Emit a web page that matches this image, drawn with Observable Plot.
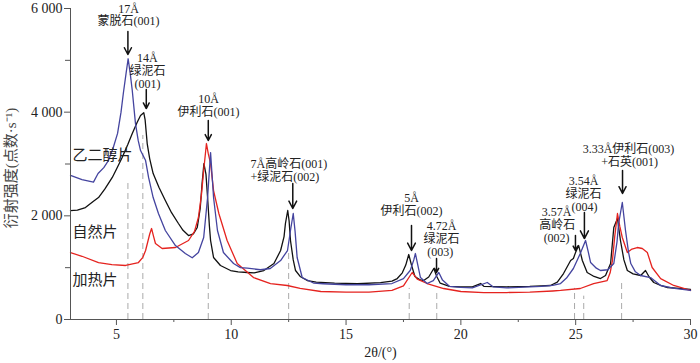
<!DOCTYPE html>
<html>
<head>
<meta charset="utf-8">
<script src="https://cdn.jsdelivr.net/npm/d3@7"></script>
<script src="https://cdn.jsdelivr.net/npm/@observablehq/plot@0.6"></script>
<style>
  html, body { margin: 0; padding: 0; background: #fff; overflow: hidden; }
  svg { display: block; }
</style>
</head>
<body>
<div id="chart"></div>
<script>
// 2θ (°) , intensity (counts·s⁻¹)
const natural = [ // 自然片 (black)
  [3.0,2100],[3.3,2110],[3.65,2160],[4.0,2280],[4.22,2353],[4.5,2520],[4.82,2740],[5.0,2900],
  [5.25,3125],[5.5,3380],[5.69,3590],[5.9,3800],[6.05,3935],[6.19,3990],[6.25,3850],[6.34,3395],
  [6.45,3100],[6.6,2816],[6.85,2550],[7.13,2296],[7.4,2060],[7.7,1852],[7.9,1720],[8.14,1620],
  [8.35,1650],[8.52,1775],[8.65,2150],[8.73,2623],[8.81,3009],[8.9,2800],[8.97,2353],[9.05,1800],
  [9.1,1524],[9.23,1196],[9.53,1042],[9.97,945],[10.3,920],[10.7,907],[11.0,900],[11.42,945],
  [11.86,1080],[12.15,1331],[12.3,1600],[12.36,1852],[12.46,2103],[12.52,1900],[12.58,1524],
  [12.7,1150],[12.8,945],[13.0,830],[13.31,752],[13.7,720],[14.5,700],[15.5,690],[16.5,710],
  [17.0,740],[17.23,790],[17.45,900],[17.6,1050],[17.73,1254],[17.85,1050],[18.0,830],[18.2,770],
  [18.38,752],[18.6,820],[18.82,984],[18.95,830],[19.1,700],[19.5,640],[20.0,630],[20.5,630],
  [20.86,694],[21.0,640],[22.0,630],[23.0,640],[23.5,650],[23.9,656],[24.2,720],[24.47,887],
  [24.78,1138],[24.9,1177],[25.0,1300],[25.13,1427],[25.29,1138],[25.5,907],[25.8,830],[26.08,790],
  [26.3,850],[26.52,1080],[26.66,1775],[26.82,1948],[26.95,1524],[27.1,1150],[27.25,945],[27.5,880],
  [27.83,849],[28.04,945],[28.2,820],[28.4,714],[28.7,660],[29.0,617],[29.5,600],[30.0,579]
];
const glycol = [ // 乙二醇片 (blue)
  [3.0,2780],[3.5,2700],[4.0,2650],[4.2,2816],[4.45,2930],[4.65,3067],[4.85,3300],[5.05,3590],
  [5.2,4000],[5.3,4360],[5.42,4750],[5.51,5030],[5.6,4750],[5.69,4418],[5.83,3780],[5.95,3450],
  [6.05,3260],[6.27,3067],[6.4,2740],[6.6,2353],[6.83,2045],[7.13,1717],[7.57,1427],[8.0,1273],
  [8.3,1190],[8.57,1292],[8.8,1582],[8.97,2353],[9.1,3220],[9.23,2353],[9.4,1717],[9.66,1292],
  [10.1,1080],[10.4,1000],[10.7,990],[11.27,960],[11.7,984],[12.15,1138],[12.45,1331],[12.58,1717],
  [12.7,2045],[12.78,1700],[12.87,1196],[13.09,810],[13.6,700],[14.0,690],[15.0,670],[16.0,670],
  [17.0,694],[17.5,790],[17.8,950],[17.95,1150],[18.02,1273],[18.1,1100],[18.24,810],[18.53,694],
  [18.8,750],[19.04,907],[19.2,760],[19.5,640],[20.0,620],[20.5,610],[21.15,714],[21.4,630],
  [22.0,610],[23.0,630],[23.5,640],[24.0,660],[24.34,694],[24.6,800],[24.9,984],[25.2,1273],
  [25.43,1524],[25.55,1300],[25.65,1099],[25.9,990],[26.08,945],[26.4,960],[26.66,1080],[26.8,1500],
  [26.87,1852],[27.03,2257],[27.17,1717],[27.3,1300],[27.4,1080],[27.6,920],[27.83,849],[28.26,810],
  [28.7,656],[29.3,600],[30.0,560]
];
const heated = [ // 加热片 (red)
  [3.0,1292],[3.5,1220],[4.22,1099],[4.8,1060],[5.4,1042],[5.96,1099],[6.15,1200],[6.27,1331],
  [6.45,1650],[6.53,1755],[6.62,1600],[6.7,1466],[6.99,1370],[7.57,1389],[8.14,1524],[8.4,1700],
  [8.57,1968],[8.7,2400],[8.8,2874],[8.92,3395],[9.0,3200],[9.1,3009],[9.23,2488],[9.46,2045],
  [9.82,1524],[10.26,1080],[10.97,810],[11.71,694],[12.44,656],[13.0,600],[13.9,540],[15.0,530],
  [16.0,530],[17.0,560],[17.5,650],[17.88,907],[18.1,780],[18.53,694],[19.25,598],[20.0,540],
  [21.0,520],[22.0,520],[23.0,530],[24.0,550],[24.34,560],[25.2,598],[25.78,694],[26.37,752],
  [26.5,900],[26.6,1138],[26.7,1600],[26.82,2045],[26.92,1800],[27.03,1582],[27.25,1292],[27.45,1360],
  [27.68,1389],[27.9,1370],[28.12,1292],[28.33,1003],[28.7,790],[29.27,656],[30.0,560]
];

// reference (dashed) lines: 2θ, upper end
const refX   = [5.5, 6.15, 9.0, 12.5, 17.75, 18.95, 24.95, 25.35, 27.0];
const refTop = [2650, 3550, 900, 1350, 600, 550, 600, 450, 700];

// arrows: 2θ, start, end
const arrowX  = [5.5, 6.3, 9.0, 12.68, 17.85, 18.94, 24.99, 25.38, 27.04];
const arrowY1 = [5555, 4437, 3839, 2623, 1813, 1177, 1620, 2064, 2874];
const arrowY2 = [5112, 4070, 3453, 2141, 1331, 907, 1331, 1562, 2431];

// peak annotations: text, 2θ, intensity, anchor
const annText = ["17Å","蒙脱石(001)","14Å","绿泥石","(001)","10Å","伊利石(001)",
  "7Å高岭石(001)","+绿泥石(002)","5Å","伊利石(002)","4.72Å","绿泥石","(003)",
  "3.57Å","高岭石","(002)","3.54Å","绿泥石","(004)","3.33Å伊利石(003)","+石英(001)"];
const annX = [5.53,5.53,6.35,6.35,6.35,9.01,9.01,10.84,10.84,17.85,17.85,19.16,19.16,19.1,
  24.17,24.2,24.17,25.34,25.34,25.38,27.3,27.35];
const annY = [5990,5749,5035,4784,4534,4244,3994,2990,2740,2334,2084,1794,1543,1292,
  2064,1813,1563,2662,2411,2161,3279,3029];
const annAnchor = ["middle","middle","middle","middle","middle","middle","middle","start","start",
  "middle","middle","middle","middle","middle","middle","middle","middle","middle","middle","middle","middle","middle"];

// series labels
const seriesNames = ["乙二醇片","自然片","加热片"];
const seriesLabelX = [3.09, 3.09, 3.09];
const seriesLabelY = [3164, 1678, 752];

const xTicks = [5,10,15,20,25,30];
const xMinor = [7.5,12.5,17.5,22.5,27.5];
const yTicks = [0,2000,4000,6000];
const yMinor = [1000,3000,5000];

const toRows = arr => arr.map(([x,y]) => ({x, y}));
const refs = refX.map((x,i) => ({x, top: refTop[i]}));
const arrows = arrowX.map((x,i) => ({x, y1: arrowY1[i], y2: arrowY2[i]}));
const anns = annText.map((t,i) => ({t, x: annX[i], y: annY[i], a: annAnchor[i]}));
const serLabels = seriesNames.map((t,i) => ({t, x: seriesLabelX[i], y: seriesLabelY[i]}));

const fmt = d => d === 0 ? "0" : d3.format(",")(d).replace(/,/g, " ");
const serif = "'Liberation Serif', 'Times New Roman', 'Noto Sans CJK SC', serif";
const axisColor = "#555";

const chart = Plot.plot({
  width: 700,
  height: 363,
  marginTop: 8,
  marginLeft: 70,
  marginRight: 10,
  marginBottom: 44,
  x: {domain: [3, 30]},
  y: {domain: [0, 6000]},
  style: {fontFamily: serif, fontSize: "14px", color: "#222", background: "#fff"},
  marks: [
    Plot.ruleX(refs, {x: "x", y1: d => 0, y2: "top", stroke: "#aaa", strokeWidth: 1, strokeDasharray: "6,4"}),
    Plot.line(toRows(natural), {x: "x", y: "y", stroke: "#111", strokeWidth: 1.3}),
    Plot.line(toRows(heated), {x: "x", y: "y", stroke: "#e5231f", strokeWidth: 1.3}),
    Plot.line(toRows(glycol), {x: "x", y: "y", stroke: "#44449f", strokeWidth: 1.3}),
    Plot.arrow(arrows, {x1: "x", y1: "y1", x2: "x", y2: "y2", stroke: "#111", strokeWidth: 1.5, headLength: 9, headAngle: 55}),
    Plot.text(anns, {x: "x", y: "y", text: "t", textAnchor: "start", filter: d => d.a === "start", fontSize: 12, fill: "#222", fontFamily: serif}),
    Plot.text(anns, {x: "x", y: "y", text: "t", textAnchor: "middle", filter: d => d.a === "middle", fontSize: 12, fill: "#222", fontFamily: serif}),
    Plot.text(serLabels, {x: "x", y: "y", text: "t", textAnchor: "start", fontSize: 15, fill: "#222", fontFamily: serif}),
    Plot.ruleY([0], {stroke: axisColor}),
    Plot.ruleX([3], {y1: 0, y2: 6000, stroke: axisColor}),
    Plot.axisX({ticks: xTicks, tickSize: 6, tickPadding: 4, tickFormat: d => String(d), stroke: axisColor, label: null, fontSize: 14}),
    Plot.axisX({ticks: xMinor, tickSize: 3, tickFormat: () => "", stroke: axisColor, label: null}),
    Plot.axisY({ticks: yTicks, tickSize: 6, tickPadding: 2, tickFormat: fmt, stroke: axisColor, label: null, fontSize: 14}),
    Plot.axisY({ticks: yMinor, tickSize: 5, tickFormat: () => "", stroke: axisColor, label: null}),
    Plot.text(["2θ/(°)"], {frameAnchor: "bottom", dy: 37, fontSize: 14, fill: "#222", fontFamily: serif}),
    Plot.text(["衍射强度(点数·s⁻¹)"], {frameAnchor: "left", textAnchor: "middle", dx: -59, dy: 4, rotate: -90, fontSize: 15, fill: "#444", fontFamily: serif})
  ]
});
document.getElementById("chart").appendChild(chart);
</script>
</body>
</html>
